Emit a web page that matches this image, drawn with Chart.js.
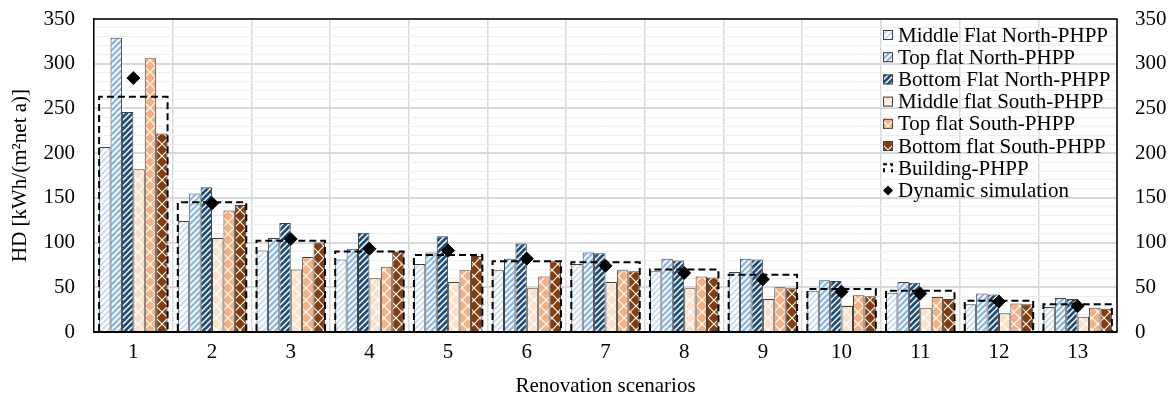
<!DOCTYPE html>
<html><head><meta charset="utf-8">
<script src="https://cdn.jsdelivr.net/npm/chart.js@4.4.1/dist/chart.umd.min.js"></script>
<style>html,body{margin:0;padding:0;background:#fff}#wrap{width:1176px;height:401px}</style>
</head><body><div id="wrap"><canvas id="c" width="1176" height="401"></canvas></div>
<script>
const categories = ['1','2','3','4','5','6','7','8','9','10','11','12','13'];
const middleFlatNorth = [207,124,91,81,76,69,76,68,67,46,44,31,28];
const topFlatNorth    = [329,155,105,93,89,82,89,82,82,58,56,43,38];
const bottomFlatNorth = [246,162,122,111,107,99,88,80,81,57,55,42,37];
const middleFlatSouth = [182,105,70,60,56,49,56,49,37,29,27,21,17];
const topFlatSouth    = [306,136,84,73,69,62,69,62,50,41,39,32,27];
const bottomFlatSouth = [222,142,100,90,85,79,68,61,49,40,37,31,26];
const buildingPHPP    = [263,145,102,90,86,79,78,70,64,48,46,35,31];
const dynamicSim      = [284,144,104,93,91,82,74,66,59,45,43,34,29];
const seriesNames = ['Middle Flat North-PHPP','Top flat North-PHPP','Bottom Flat North-PHPP','Middle flat South-PHPP','Top flat South-PHPP','Bottom flat South-PHPP','Building-PHPP','Dynamic simulation'];
const yTickLabels = [0,50,100,150,200,250,300,350];

const FONT = "'Liberation Serif','Times New Roman',serif";
const FS = 21;

function stripes(color, lw, s){
  const c=document.createElement('canvas'); c.width=c.height=s;
  const g=c.getContext('2d'); g.fillStyle='#fff'; g.fillRect(0,0,s,s);
  g.strokeStyle=color; g.lineWidth=lw; g.beginPath();
  for(let k=0;k<3;k++){ g.moveTo(-1,k*s+1); g.lineTo(s+1,k*s-s-1); }
  g.stroke();
  return g.createPattern(c,'repeat');
}
function diamonds(color, s, r){
  const c=document.createElement('canvas'); c.width=c.height=s;
  const g=c.getContext('2d'); g.fillStyle='#fff'; g.fillRect(0,0,s,s);
  g.fillStyle=color;
  [[s/2,s/2],[0,0],[s,0],[0,s],[s,s]].forEach(([x,y])=>{
    g.beginPath(); g.moveTo(x,y-r); g.lineTo(x+r,y); g.lineTo(x,y+r); g.lineTo(x-r,y); g.closePath(); g.fill();
  });
  return g.createPattern(c,'repeat');
}
const pats = [
  stripes('#c6dbef',1.8,6),
  stripes('#8fb9e2',2.4,6),
  stripes('#1f4e79',2.8,6),
  diamonds('#fbe0cc',12,5.2),
  diamonds('#f4b183',12,5.2),
  diamonds('#843c0c',12,5.2)
];
const barData=[middleFlatNorth,topFlatNorth,bottomFlatNorth,middleFlatSouth,topFlatSouth,bottomFlatSouth];

const datasets = barData.map((d,i)=>({
  type:'bar', label:seriesNames[i], data:d, backgroundColor:pats[i],
  borderColor:'#404040', borderWidth:1, order:3,
  categoryPercentage:0.87, barPercentage:1
}));
datasets.push({type:'bar',label:seriesNames[6],data:buildingPHPP,backgroundColor:'rgba(0,0,0,0)',
  borderColor:'rgba(0,0,0,0)',borderWidth:0,grouped:false,order:1,categoryPercentage:0.87,barPercentage:1});
datasets.push({type:'line',label:seriesNames[7],data:dynamicSim,showLine:false,pointStyle:'rectRot',
  pointRadius:6.5,pointBackgroundColor:'#000',pointBorderColor:'#000',order:0});

const dashedBars = {
  id:'dashedBars',
  afterDatasetDraw(chart,args){
    if(args.index!==6) return;
    const g=chart.ctx;
    g.save();
    g.strokeStyle='#000'; g.lineWidth=2; g.setLineDash([7,4]);
    args.meta.data.forEach(el=>{
      const p=el.getProps(['x','y','base','width'],true);
      const l=p.x-p.width/2, r=p.x+p.width/2;
      g.beginPath(); g.moveTo(l,p.base); g.lineTo(l,p.y); g.lineTo(r,p.y); g.lineTo(r,p.base); g.stroke();
    });
    g.restore();
  }
};

const frameLegend = {
  id:'frameLegend',
  afterDraw(chart){
    const g=chart.ctx, a=chart.chartArea;
    g.save();
    g.strokeStyle='#000'; g.lineWidth=1.5;
    g.beginPath(); g.moveTo(a.left,a.top); g.lineTo(a.right,a.top); g.lineTo(a.right,a.bottom); g.stroke();
    const x0=883, y0=35, dy=22.2;
    g.font=FS+'px '+FONT; g.textBaseline='middle'; g.fillStyle='#000';
    seriesNames.forEach((n,i)=>{
      const y=y0+i*dy;
      if(i<6){
        g.fillStyle=pats[i]; g.fillRect(x0,y-5,10,10);
        g.strokeStyle='#404040'; g.lineWidth=1; g.strokeRect(x0+0.5,y-4.5,9,9);
      } else if(i===6){
        g.strokeStyle='#000'; g.lineWidth=2; g.setLineDash([4,3]);
        g.beginPath(); g.moveTo(x0+1,y+4); g.lineTo(x0+1,y-4); g.lineTo(x0+9,y-4); g.lineTo(x0+9,y+4); g.stroke(); g.setLineDash([]);
      } else {
        g.fillStyle='#000'; g.beginPath(); g.moveTo(x0+5,y-5); g.lineTo(x0+10,y); g.lineTo(x0+5,y+5); g.lineTo(x0,y); g.closePath(); g.fill();
      }
      g.fillStyle='#000'; g.fillText(n,x0+15,y+1);
    });
    g.restore();
  }
};

new Chart(document.getElementById('c'),{
  data:{labels:categories,datasets},
  options:{
    responsive:false, animation:false,
    layout:{padding:{top:19,left:0,right:0,bottom:0}},
    plugins:{legend:{display:false},tooltip:{enabled:false}},
    scales:{
      x:{
        grid:{color:'#d9d9d9',lineWidth:1.5,drawTicks:false,offset:true},
        border:{color:'#000',width:2},
        ticks:{color:'#000',font:{family:FONT,size:FS},padding:8},
        title:{display:true,text:'Renovation scenarios',color:'#000',font:{family:FONT,size:FS},padding:{top:2,bottom:2}},
        afterFit(s){s.height=69; s.paddingLeft=0; s.paddingRight=0;}
      },
      y:{
        position:'left', min:0, max:350,
        grid:{drawTicks:false,
          color:c=>c.tick && c.tick.value%50===0?'#d9d9d9':'#eeeeee',
          lineWidth:c=>c.tick && c.tick.value%50===0?2:1},
        border:{color:'#000',width:1.5},
        ticks:{stepSize:10,autoSkip:false,color:'#000',font:{family:FONT,size:FS},padding:19,
          callback:v=>yTickLabels.includes(v)?String(v):''},
        title:{display:true,text:'HD [kWh/(m²net a)]',color:'#000',font:{family:FONT,size:FS},padding:{top:8,bottom:2}},
        afterFit(s){s.width=94; s.paddingTop=0; s.paddingBottom=0;}
      },
      y2:{
        position:'right', min:0, max:350,
        grid:{display:false,drawTicks:false},
        border:{display:false},
        ticks:{stepSize:50,color:'#000',font:{family:FONT,size:FS},padding:18},
        afterFit(s){s.width=59; s.paddingTop=0; s.paddingBottom=0;}
      }
    }
  },
  plugins:[dashedBars,frameLegend]
});
</script></body></html>
